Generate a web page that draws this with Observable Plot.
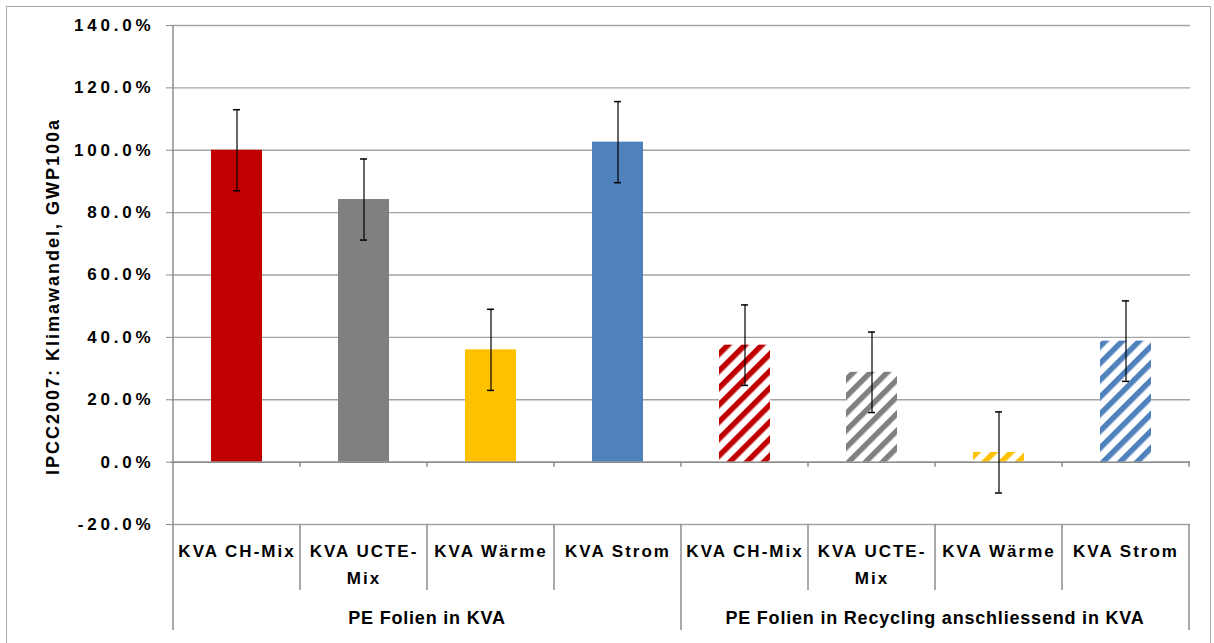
<!DOCTYPE html>
<html>
<head>
<meta charset="utf-8">
<script src="https://cdn.jsdelivr.net/npm/d3@7"></script>
<script src="https://cdn.jsdelivr.net/npm/@observablehq/plot@0.6"></script>
<style>
  body { margin: 0; background: #fff; }
  #wrap { position: relative; width: 1214px; height: 643px; overflow: hidden; font-family: "Liberation Sans", Arial, sans-serif; }
  #frame { position: absolute; left: 6px; top: 6px; width: 1205px; height: 680px; border: 1.5px solid #a8a8a8; box-sizing: border-box; }
  #wrap svg { position: absolute; left: 0; top: 0; }
  .chart g[aria-label="y-axis tick label"] text { letter-spacing: 3.8px; }
  .chart g[aria-label="x-axis tick label"] text { letter-spacing: 2px; }
  .chart g[aria-label="text"] text { letter-spacing: 2px; }
  .chart .grp text { letter-spacing: 0.8px; }
</style>
</head>
<body>
<div id="wrap"><div id="frame"></div></div>
<script>
// ---- data ----
const groups = ["PE Folien in KVA", "PE Folien in Recycling anschliessend in KVA"];
const categories = ["KVA CH-Mix", "KVA UCTE-Mix", "KVA Wärme", "KVA Strom"];
const categoryTickLabels = ["KVA CH-Mix", "KVA UCTE-\nMix", "KVA Wärme", "KVA Strom"];
const valuesKVA = [100.0, 84.2, 36.0, 102.6];
const valuesRecycling = [37.5, 28.8, 3.1, 38.8];
const errorKVA = [13.0, 13.0, 13.0, 13.0];
const errorRecycling = [12.9, 12.9, 13.0, 12.9];
const yTicks = [-20, 0, 20, 40, 60, 80, 100, 120, 140];
const yLabel = "IPCC2007: Klimawandel, GWP100a";

// ---- styles ----
const colors = ["#C00000", "#808080", "#FFC000", "#4F81BD"];

const rows = groups.flatMap((g, gi) => categories.map((c, ci) => ({
  key: gi + "|" + ci,
  gi, ci,
  group: g,
  category: c,
  value: (gi === 0 ? valuesKVA : valuesRecycling)[ci],
  err: (gi === 0 ? errorKVA : errorRecycling)[ci],
  fill: gi === 0 ? colors[ci] : `url(#hatch-${ci})`
})));
const keys = rows.map(d => d.key);

const chart = Plot.plot({
  className: "chart",
  width: 1214,
  height: 643,
  marginLeft: 171,
  marginRight: 24,
  marginTop: 25,
  marginBottom: 119,
  style: { fontFamily: "'Liberation Sans', Arial, sans-serif", background: "transparent", overflow: "visible", color: "#000" },
  x: { domain: keys, paddingInner: 0.6, paddingOuter: 0.3 },
  y: { domain: [-20, 140] },
  color: { type: "identity" },
  marks: [
    Plot.gridY(yTicks, { stroke: "#a3a3a3", strokeOpacity: 1, strokeWidth: 1.3 }),
    Plot.barY(rows, { x: "key", y: "value", fill: "fill" }),
    Plot.ruleY([0], { stroke: "#8c8c8c", strokeWidth: 1.5 }),
    Plot.ruleX(rows, { x: "key", y1: d => d.value - d.err, y2: d => d.value + d.err, stroke: "#000", strokeWidth: 1.2 }),
    Plot.tickY(rows, { x: "key", y: d => d.value + d.err, insetLeft: 22, insetRight: 22, stroke: "#000", strokeWidth: 1.5 }),
    Plot.tickY(rows, { x: "key", y: d => d.value - d.err, insetLeft: 22, insetRight: 22, stroke: "#000", strokeWidth: 1.5 }),
    Plot.axisY({ ticks: yTicks, tickFormat: d => d.toFixed(1) + "%", tickSize: 5, tickPadding: 12, fontSize: 17, fontWeight: "bold", label: null, stroke: "#8c8c8c" }),
    Plot.axisX({ tickFormat: k => categoryTickLabels[+k.split("|")[1]], tickSize: 0, tickPadding: 13, fontSize: 17, fontWeight: "bold", lineHeight: 1.6, label: null }),
    Plot.text([yLabel], { text: d => d, frameAnchor: "left", textAnchor: "middle", rotate: -90, dx: -118.5, dy: 21.5, fontSize: 18, fontWeight: "bold", fill: "#000" })
  ]
});

document.getElementById("wrap").appendChild(chart);

// ---- hatch patterns, category separators and group labels via Plot's scales ----
const svg = d3.select(chart);
const defs = svg.insert("defs", ":first-child");
colors.forEach((c, i) => {
  const p = defs.append("pattern")
    .attr("id", `hatch-${i}`)
    .attr("patternUnits", "userSpaceOnUse")
    .attr("width", 12).attr("height", 12)
    .attr("patternTransform", "rotate(45)");
  p.append("rect").attr("width", 12).attr("height", 12).attr("fill", "#fff");
  p.append("rect").attr("width", 5.5).attr("height", 12).attr("fill", c);
});

const sx = chart.scale("x"), sy = chart.scale("y");
const step = sx.step, bw = sx.bandwidth;
const half = (step - bw) / 2;
const bounds = keys.map(k => sx.apply(k) - half);
bounds.push(sx.apply(keys[keys.length - 1]) + bw + half);
const y0 = sy.apply(0), yMin = sy.apply(-20), yMax = sy.apply(140);
const bottom = 630, subBottom = 590;
const g = svg.append("g").attr("stroke", "#8c8c8c").attr("stroke-width", 1.5);
bounds.forEach((b, i) => {
  if (i > 0) g.append("line").attr("x1", b).attr("x2", b).attr("y1", y0).attr("y2", y0 + 5);
  const isGroup = i % categories.length === 0;
  g.append("line").attr("x1", b).attr("x2", b)
    .attr("y1", i === 0 ? yMax : yMin)
    .attr("y2", isGroup ? bottom : subBottom);
});
const gl = svg.append("g").attr("class", "grp")
  .attr("font-size", 18).attr("font-weight", "bold").attr("text-anchor", "middle").attr("fill", "#000");
groups.forEach((name, gi) => {
  const xa = bounds[gi * categories.length], xb = bounds[(gi + 1) * categories.length];
  gl.append("text").attr("x", (xa + xb) / 2).attr("y", 624).text(name);
});
</script>
</body>
</html>
